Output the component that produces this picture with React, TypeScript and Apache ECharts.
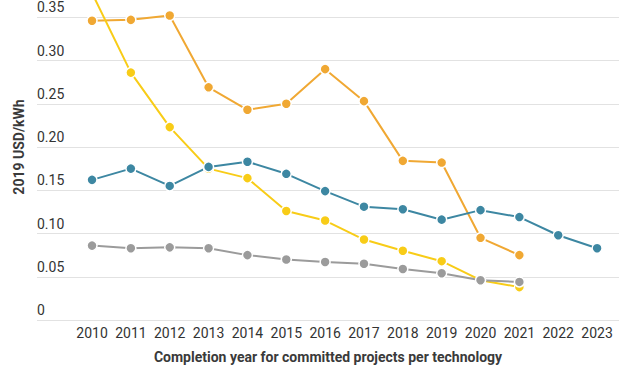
import React, { useEffect, useRef } from "react";
import * as echarts from "echarts";

const years = ["2010","2011","2012","2013","2014","2015","2016","2017","2018","2019","2020","2021","2022","2023"];
const orangeSeries = [0.346, 0.347, 0.352, 0.269, 0.243, 0.250, 0.290, 0.253, 0.184, 0.182, 0.095, 0.075, null, null];
const yellowSeries = [0.378, 0.286, 0.223, 0.175, 0.164, 0.126, 0.115, 0.093, 0.080, 0.068, 0.046, 0.038, null, null];
const blueSeries = [0.162, 0.175, 0.155, 0.177, 0.183, 0.169, 0.149, 0.131, 0.128, 0.116, 0.127, 0.119, 0.098, 0.083];
const greySeries = [0.086, 0.083, 0.084, 0.083, 0.075, 0.070, 0.067, 0.065, 0.059, 0.054, 0.046, 0.044, null, null];
const yTickLabels = ["0", "0.05", "0.10", "0.15", "0.20", "0.25", "0.30", "0.35"];

const yTitle = "2019 USD/kWh";
const xTitle = "Completion year for committed projects per technology";

const FONT = "Roboto, 'Noto Sans', sans-serif";

function mkSeries(data: (number | null)[], color: string) {
  return {
    type: "line",
    xAxisIndex: 1,
    yAxisIndex: 1,
    data,
    symbol: "circle",
    symbolSize: 10,
    showSymbol: true,
    clip: false,
    lineStyle: { color, width: 2 },
    itemStyle: { color, borderColor: "#fff", borderWidth: 1.5 },
    emphasis: { disabled: true },
  };
}

export default function App() {
  const ref = useRef<HTMLDivElement>(null);
  useEffect(() => {
    if (!ref.current) return;
    const chart = echarts.init(ref.current, undefined, { renderer: "svg" });
    const top = -26;
    const height = 346;
    chart.setOption({
      animation: false,
      backgroundColor: "#fff",
      textStyle: { fontFamily: FONT },
      grid: [
        { left: 37, right: 21, top, height, outerBoundsMode: "none", containLabel: false },
        { left: 72.6, right: 23.5, top, height, outerBoundsMode: "none", containLabel: false },
      ],
      xAxis: [
        {
          type: "value",
          gridIndex: 0,
          min: 0,
          max: 1,
          axisLabel: { show: false },
          axisLine: { show: false },
          axisTick: { show: false },
          splitLine: { show: false },
          name: xTitle,
          nameLocation: "middle",
          nameGap: 30,
          nameTextStyle: { fontFamily: FONT, fontSize: 14, fontWeight: "bold", color: "#3a3a3a" },
        },
        {
          type: "category",
          gridIndex: 1,
          data: years,
          boundaryGap: true,
          axisLine: { show: false },
          axisTick: { show: false },
          splitLine: { show: false },
          axisLabel: { color: "#333", fontSize: 14, fontFamily: FONT, margin: 6, interval: 0 },
        },
      ],
      yAxis: [
        {
          type: "value",
          gridIndex: 0,
          min: 0,
          max: 0.4,
          interval: 0.05,
          axisLine: { show: false },
          axisTick: { show: false },
          splitLine: { show: true, lineStyle: { color: "#e2e2e2", width: 1 } },
          axisLabel: {
            inside: true,
            margin: 0,
            verticalAlign: "bottom",
            padding: [0, 0, 3, 0],
            color: "#333",
            fontSize: 14,
            fontFamily: FONT,
            formatter: (v: number) => {
              const i = Math.round(v / 0.05);
              return i < yTickLabels.length ? yTickLabels[i] : "";
            },
          },
          name: yTitle,
          nameLocation: "middle",
          nameGap: 7,
          nameRotate: 90,
          nameTextStyle: { fontFamily: FONT, fontSize: 14, fontWeight: "bold", color: "#3a3a3a" },
        },
        {
          type: "value",
          gridIndex: 1,
          min: 0,
          max: 0.4,
          interval: 0.05,
          show: false,
          splitLine: { show: false },
        },
      ],
      series: [
        mkSeries(orangeSeries, "#f0a833"),
        mkSeries(yellowSeries, "#f8cc17"),
        mkSeries(blueSeries, "#3d87a2"),
        mkSeries(greySeries, "#9b9b9b"),
      ],
    });
    return () => chart.dispose();
  }, []);
  return <div ref={ref} style={{ width: 640, height: 372, position: "absolute", left: 0, top: 0 }} />;
}
